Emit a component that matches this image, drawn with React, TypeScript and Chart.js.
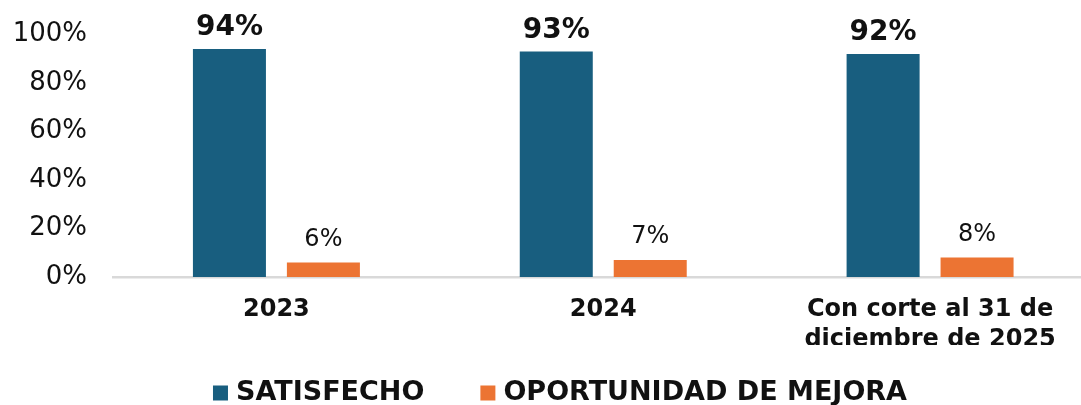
import React, { useEffect, useRef } from "react";
import { Chart, registerables } from "chart.js";

Chart.register(...registerables);

const categories: (string | string[])[] = ["2023", "2024", ["Con corte al 31 de", "diciembre de 2025"]];
const satisfecho = [94, 93, 92];
const oportunidad = [6, 7, 8];
const seriesNames = ["SATISFECHO", "OPORTUNIDAD DE MEJORA"];
const seriesColors = ["#185E7F", "#EC7433"];
const yMin = 0;
const yMax = 100;
const yStep = 20;

const FONT = "'DejaVu Sans', Verdana, sans-serif";

const valueLabels = {
  id: "valueLabels",
  afterDatasetsDraw(chart: any) {
    const ctx = chart.ctx;
    chart.data.datasets.forEach((ds: any, i: number) => {
      const meta = chart.getDatasetMeta(i);
      meta.data.forEach((el: any, j: number) => {
        const v = ds.data[j];
        ctx.save();
        ctx.font = i === 0 ? `bold 28px ${FONT}` : `24px ${FONT}`;
        ctx.fillStyle = "#111111";
        ctx.textAlign = "center";
        ctx.textBaseline = "middle";
        ctx.fillText(`${v}%`, el.x, el.y - (i === 0 ? 21 : 23));
        ctx.restore();
      });
    });
  },
};

const bottomLegend = {
  id: "bottomLegend",
  afterDraw(chart: any) {
    const ctx = chart.ctx;
    const box = 15;
    const gap = 8;
    const itemGap = 56;
    const centerX = 560;
    const centerY = 393;
    ctx.save();
    ctx.font = `bold 27px ${FONT}`;
    const items = chart.data.datasets.map((ds: any) => ({
      text: ds.label as string,
      color: ds.backgroundColor as string,
      w: ctx.measureText(ds.label).width,
    }));
    const total =
      items.reduce((s: number, it: any) => s + box + gap + it.w, 0) + itemGap * (items.length - 1);
    let x = centerX - total / 2;
    items.forEach((it: any) => {
      ctx.fillStyle = it.color;
      ctx.fillRect(x, centerY - box / 2, box, box);
      x += box + gap;
      ctx.fillStyle = "#111111";
      ctx.textAlign = "left";
      ctx.textBaseline = "middle";
      ctx.fillText(it.text, x, centerY);
      x += it.w + itemGap;
    });
    ctx.restore();
  },
};

export default function App() {
  const ref = useRef<HTMLCanvasElement | null>(null);

  useEffect(() => {
    if (!ref.current) return;
    const chart = new Chart(ref.current, {
      type: "bar",
      data: {
        labels: categories,
        datasets: [
          {
            label: seriesNames[0],
            data: satisfecho,
            backgroundColor: seriesColors[0],
            categoryPercentage: 0.575,
            barPercentage: 0.777,
          },
          {
            label: seriesNames[1],
            data: oportunidad,
            backgroundColor: seriesColors[1],
            categoryPercentage: 0.575,
            barPercentage: 0.777,
          },
        ],
      },
      options: {
        responsive: false,
        animation: false,
        devicePixelRatio: 1,
        layout: { padding: { top: 34.5, right: 1.5, bottom: 60, left: 0 } },
        plugins: {
          legend: { display: false },
          tooltip: { enabled: false },
        },
        scales: {
          x: {
            grid: { display: false, drawTicks: false },
            border: { display: true, color: "#D9D9D9", width: 2.5 },
            ticks: {
              font: { family: FONT, size: 24, weight: "bold", lineHeight: 1.25 },
              color: "#111111",
              padding: 18,
              maxRotation: 0,
              autoSkip: false,
            },
            afterFit: (s: any) => {
              s.height = 68;
            },
          },
          y: {
            min: yMin,
            max: yMax,
            grid: { display: false, drawTicks: false },
            border: { display: false },
            ticks: {
              stepSize: yStep,
              callback: (v: any) => `${v}%`,
              font: { family: FONT, size: 26 },
              color: "#111111",
              padding: 26,
            },
            afterFit: (s: any) => {
              s.width = 113;
              s.paddingTop = 0;
              s.paddingBottom = 0;
            },
          },
        },
      },
      plugins: [valueLabels, bottomLegend],
    });
    return () => chart.destroy();
  }, []);

  return (
    <div
      style={{
        position: "fixed",
        left: 0,
        top: 0,
        width: 1081,
        height: 405,
        overflow: "hidden",
        background: "#ffffff",
      }}
    >
      <canvas ref={ref} width={1095} height={405} style={{ display: "block", width: 1095, height: 405 }} />
    </div>
  );
}
